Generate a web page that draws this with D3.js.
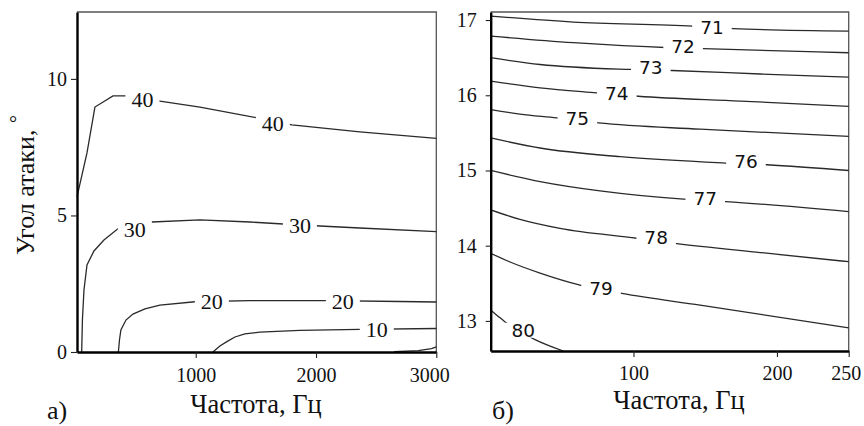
<!DOCTYPE html>
<html><head><meta charset="utf-8">
<script src="https://cdn.jsdelivr.net/npm/d3@7"></script>
<style>
body{margin:0;background:#fff;}
svg{display:block;}
</style></head>
<body>
<svg id="c" width="864" height="426"></svg>
<script>
// ---------- DATA ----------
// Panel a) contours: [frequency Hz, angle deg]
const contourA40 = [[13,5.68],[96,7.29],[162,8.97],[312,9.38],[420,9.38],[702,9.19],[1035,8.97],[1517,8.57],[1799,8.32],[2364,8.06],[3000,7.82]];
const contourA30 = [[52,0],[58,1.17],[71,2.27],[96,3.19],[154,3.70],[237,4.10],[353,4.51],[494,4.69],[636,4.76],[1035,4.84],[1450,4.76],[1866,4.65],[2364,4.54],[3000,4.41]];
const contourA20 = [[357,0],[366,0.44],[378,0.81],[420,1.17],[478,1.39],[578,1.58],[702,1.72],[993,1.84],[1450,1.88],[2115,1.88],[2697,1.85],[3000,1.83]];
const contourA10 = [[1143,0],[1201,0.22],[1259,0.38],[1326,0.55],[1409,0.66],[1533,0.73],[1866,0.79],[2364,0.83],[3000,0.86]];
const contourA0  = [[2650,0.01],[2850,0.05],[2960,0.12],[3000,0.19]];
// labels: [text, freq, angle]
const labelsA = [["40",557,9.23],["40",1641,8.35],["30",494,4.47],["30",1866,4.65],["20",1134,1.84],["20",2223,1.84],["10",2505,0.81]];
const xTicksA = [1000,2000,3000];
const yTicksA = [0,5,10];

// Panel б) contours
const contourB71 = [[0.5,17.053],[58,16.973],[141.6,16.92],[169.5,16.885],[250,16.853]];
const contourB72 = [[0.5,16.787],[58,16.699],[125.6,16.632],[148.6,16.619],[250,16.565]];
const contourB73 = [[0.5,16.499],[34.9,16.409],[97.7,16.343],[126.8,16.329],[188.4,16.283],[250,16.24]];
const contourB74 = [[0.5,16.187],[34.9,16.099],[74.4,16.032],[103.3,15.987],[174.4,15.923],[250,15.853]];
const contourB75 = [[0.5,15.809],[20.9,15.749],[46.5,15.699],[75.6,15.632],[146.5,15.549],[250,15.453]];
const contourB76 = [[0.5,15.432],[34.9,15.299],[90.7,15.183],[164,15.099],[193,15.076],[250,15.0]];
const contourB77 = [[0.5,15.0],[34.9,14.853],[76.7,14.729],[134.9,14.619],[164,14.587],[250,14.453]];
const contourB78 = [[0.5,14.476],[20.9,14.349],[48.8,14.229],[102.3,14.099],[129,14.032],[188.4,13.909],[250,13.787]];
const contourB79 = [[0.5,13.899],[14,13.783],[34.9,13.636],[62.8,13.476],[91.9,13.365],[146.5,13.209],[250,12.907]];
const contourB80 = [[0.5,13.143],[5.6,13.063],[10.5,12.987],[31.4,12.752],[51.1,12.6]];
const labelsB = [["71",154.7,16.902],["72",134.6,16.653],["73",112.1,16.365],["74",88.4,16.019],["75",60.9,15.689],["76",178.4,15.12],["77",150,14.632],["78",115.8,14.112],["79",77.4,13.432],["80",23.2,12.876]];
const xTicksB = [100,200,250];
const yTicksB = [13,14,15,16,17];

const xTitle = "Частота, Гц";
const yTitle = "Угол атаки,";
const panelTags = ["а)","б)"];

// ---------- DRAW ----------
const svg = d3.select("#c");
const serif = "'Liberation Serif','Times New Roman',serif";
const sans = "'DejaVu Sans',Verdana,sans-serif";

function panel(opt){
  const g = svg.append("g");
  const x = d3.scaleLinear().domain(opt.xd).range(opt.xr);
  const y = d3.scaleLinear().domain(opt.yd).range(opt.yr);
  const line = d3.line().x(d=>x(d[0])).y(d=>y(d[1])).curve(opt.curve);
  // frame top/right
  g.append("path").attr("d",`M${opt.xr[0]},${opt.yr[1]}H${opt.xr[1]}V${opt.yr[0]}`)
    .attr("fill","none").attr("stroke","#555").attr("stroke-width",1.3);
  // contours
  opt.contours.forEach(c=>{
    g.append("path").datum(c).attr("d", line)
      .attr("fill","none").attr("stroke","#2a2a2a").attr("stroke-width",1.3);
  });
  // labels with gaps in lines
  opt.labels.forEach(l=>{
    const t = g.append("text").attr("x",x(l[1])).attr("y",y(l[2]))
      .attr("text-anchor","middle").attr("dominant-baseline","central")
      .style("font-family",opt.labelFont).style("font-size",opt.labelSize+"px").attr("fill","#111").text(l[0]);
    const bb = t.node().getBBox();
    g.insert("rect", function(){return t.node();})
      .attr("x",bb.x-opt.pad).attr("y",bb.y+3).attr("width",bb.width+2*opt.pad).attr("height",bb.height-6)
      .attr("fill","#fff");
  });
  // axes
  const ax = g.append("g").attr("transform",`translate(0,${opt.yr[0]})`)
    .call(d3.axisBottom(x).tickValues(opt.xt).tickSize(6).tickSizeOuter(0).tickPadding(opt.xpad).tickFormat(d3.format("d")));
  const ay = g.append("g").attr("transform",`translate(${opt.xr[0]},0)`)
    .call(d3.axisLeft(y).tickValues(opt.yt).tickSize(opt.ytick).tickSizeOuter(0).tickPadding(opt.ypad).tickFormat(d3.format("d")));
  [ax,ay].forEach(a=>{
    a.attr("font-family",serif).attr("font-size",20);
    a.select(".domain").attr("stroke","#000").attr("stroke-width",2.4);
    a.selectAll(".tick line").attr("stroke","#222").attr("stroke-width",1.1);
    a.selectAll("text").style("font-family",serif).style("font-size","20px").attr("fill","#111");
  });
  ax.selectAll(".tick text").filter(d=>d===opt.xt[opt.xt.length-1]).attr("dx",opt.lastDx);
  return {g,x,y};
}

panel({xd:[13,3000], xr:[77,436.3], yd:[0,12.45], yr:[352,12],
  contours:[contourA40,contourA30,contourA20,contourA10,contourA0], labels:labelsA,
  labelFont:serif, labelSize:22, pad:6, xt:xTicksA, yt:yTicksA, xpad:10, ypad:4, ytick:6, lastDx:-7,
  curve:d3.curveLinear});
panel({xd:[0.5,250], xr:[490.7,848.7], yd:[12.6,17.107], yr:[351,12],
  contours:[contourB71,contourB72,contourB73,contourB74,contourB75,contourB76,contourB77,contourB78,contourB79,contourB80], labels:labelsB,
  labelFont:sans, labelSize:18.5, pad:8, xt:xTicksB, yt:yTicksB, xpad:9, ypad:9, ytick:5, lastDx:-3,
  curve:d3.curveMonotoneX});

// titles
svg.append("text").attr("x",256).attr("y",413).attr("text-anchor","middle")
  .style("font-family",serif).style("font-size","26.5px").attr("fill","#111").text(xTitle);
svg.append("text").attr("x",679).attr("y",408.5).attr("text-anchor","middle")
  .style("font-family",serif).style("font-size","26.5px").attr("fill","#111").text(xTitle);
svg.append("text").attr("x",47).attr("y",419)
  .style("font-family",serif).style("font-size","26px").attr("fill","#111").text(panelTags[0]);
svg.append("text").attr("x",492).attr("y",419)
  .style("font-family",serif).style("font-size","26px").attr("fill","#111").text(panelTags[1]);
const yt = svg.append("text").attr("transform","translate(34,255) rotate(-90)")
  .style("font-family",serif).style("font-size","26px").attr("fill","#111");
yt.append("tspan").text(yTitle+" ");
yt.append("tspan").attr("dy",-10).style("font-size","20px").text("°");
</script>
</body></html>
